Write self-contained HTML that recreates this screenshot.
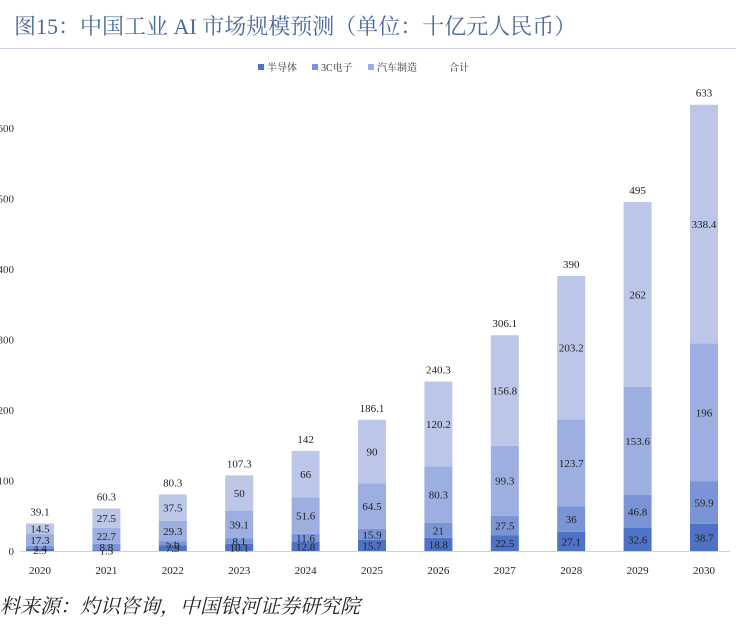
<!DOCTYPE html>
<html><head><meta charset="utf-8"><style>
body{margin:0;background:#fff;width:736px;height:633px;overflow:hidden;font-family:"Liberation Serif","Noto Serif CJK SC",serif}
</style></head><body>
<div style="position:absolute;left:14px;top:10px;font-size:22px;color:#4b6a9b;font-family:'Liberation Serif','Noto Serif CJK SC',serif;white-space:nowrap">图15：中国工业 AI 市场规模预测（单位：十亿元人民币）</div>
<div style="position:absolute;left:0;top:48px;width:736px;height:1px;background:#c9d2e4"></div>
<svg id="c" width="736" height="633" style="position:absolute;left:0;top:0"></svg>
<div style="position:absolute;left:0;top:590px;font-size:20px;font-style:italic;color:#222;font-family:'Liberation Serif','Noto Serif CJK SC',serif;white-space:nowrap">料来源：灼识咨询，中国银河证券研究院</div>
<script>
const years=["2020","2021","2022","2023","2024","2025","2026","2027","2028","2029","2030"];
const s1=[2.9,1.3,7.9,10.1,12.8,15.7,18.8,22.5,27.1,32.6,38.7];
const s2=[4.4,8.8,5.6,8.1,11.6,15.9,21,27.5,36,46.8,59.9];
const s3=[17.3,22.7,29.3,39.1,51.6,64.5,80.3,99.3,123.7,153.6,196];
const s4=[14.5,27.5,37.5,50,66,90,120.2,156.8,203.2,262,338.4];
const totals=[39.1,60.3,80.3,107.3,142,186.1,240.3,306.1,390,495,633];
const yTicks=[0,100,200,300,400,500,600];
const series=[s1,s2,s3,s4];
const colors=["#4d72c6","#7a94d5","#9dafe0","#bcc6e8"];
const NS="http://www.w3.org/2000/svg",svg=document.getElementById("c");
const y=v=>551-v*0.705, x=i=>40+i*66.4, bw=28;
function el(t,a,txt){const e=document.createElementNS(NS,t);for(const k in a)e.setAttribute(k,a[k]);if(txt!==undefined)e.textContent=txt;svg.appendChild(e);return e;}
yTicks.forEach(t=>{const e=el("text",{x:14,y:y(t)+4,"text-anchor":"end","font-size":11,fill:"#333"},t);

});
const ax=el("line",{x1:20,x2:730,y1:551.5,y2:551.5,stroke:"#d0d0d0"});


years.forEach((yr,i)=>{
 let base=0;
 series.forEach((s,k)=>{const v=s[i];
  const r=el("rect",{x:x(i)-bw/2,y:y(base+v),width:bw,height:y(base)-y(base+v),fill:colors[k]});
  
  
  const t=el("text",{x:x(i),y:(y(base)+y(base+v))/2+4,"text-anchor":"middle","font-size":11,fill:"#222"},v);
  
  
  base+=v;});
 const tt=el("text",{x:x(i),y:y(totals[i])-8,"text-anchor":"middle","font-size":11,fill:"#222"},totals[i]);
 
 
 const xl=el("text",{x:x(i),y:574,"text-anchor":"middle","font-size":11,fill:"#222"},yr);
 
 
});
const leg=[["半导体","#4d72c6",258],["3C电子","#7a94d5",312],["汽车制造","#9dafe0",368],["合计",null,440]];
leg.forEach(l=>{
 if(l[1]){const r=el("rect",{x:l[2],y:64,width:6,height:6,fill:l[1]});
 
 }
 const t=el("text",{x:l[2]+9,y:71,"font-size":10,fill:"#333"},l[0]);
 
 
});
</script>
</body></html>
